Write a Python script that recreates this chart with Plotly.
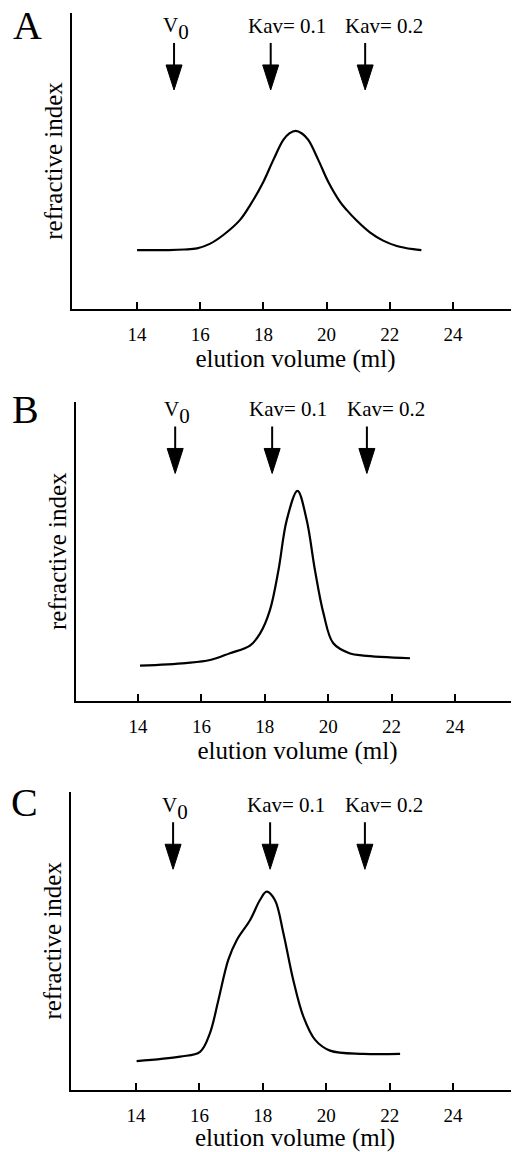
import plotly.graph_objects as go

# ---------------- data ----------------
panel_letters = ["A", "B", "C"]

elution_A = [14.0, 15.0, 15.5, 15.9, 16.3, 16.73, 17.26, 17.58, 18.0, 18.31, 18.63, 18.82, 19.02,
             19.22, 19.42, 19.74, 20.05, 20.42, 20.64, 20.95, 21.37, 21.79, 22.22, 22.74, 23.0]
ri_A = [19.9, 19.9, 20.1, 20.5, 22.0, 25.0, 30.1, 35.1, 43.0, 50.3, 57.1, 59.3, 60.2,
        59.3, 57.1, 50.3, 43.0, 36.3, 33.4, 29.9, 25.9, 23.1, 21.3, 20.2, 19.9]

elution_B = [14.06, 15.5, 16.27, 16.9, 17.53, 17.85, 18.16, 18.43, 18.69, 19.03,
             19.32, 19.58, 19.85, 20.16, 20.69, 21.11, 22.58]
ri_B = [11.7, 12.6, 13.6, 15.9, 18.4, 22.5, 30.3, 43.7, 60.4, 70.2,
        60.4, 43.7, 29.2, 19.2, 15.8, 15.1, 14.2]

elution_C = [14.02, 15.39, 16.02, 16.33, 16.6, 16.91, 17.18, 17.6, 17.91, 18.12, 18.38, 18.65,
             18.96, 19.28, 19.65, 20.12, 21.17, 22.33]
ri_C = [9.7, 11.2, 12.8, 19.0, 30.2, 43.6, 50.3, 57.0, 63.7, 66.5, 63.7, 52.5,
        36.9, 24.6, 16.8, 13.2, 12.1, 12.1]

marker_ml = [15.17, 18.23, 21.22]
marker_labels = ["V<sub><sub><span style='font-size:21px'>0</span></sub></sub>", "Kav= 0.1", "Kav= 0.2"]
arrow_tip = [74.0, 76.0, 74.0]          # per panel, in y units

tick_vals = [14, 16, 18, 20, 22, 24]
x_title = "elution volume (ml)"
y_title = "refractive index"

# ---------------- layout / style ----------------
OFF = 8                      # page body margin
W, H = 519 - OFF, 1152 - OFF
FONT = "Liberation Serif, Times New Roman, serif"


def px(v):
    return (v - OFF) / W


def py(v):
    return 1 - (v - OFF) / H


x_ranges = [[11.94, 26.09], [12.04, 26.02], [11.95, 26.08]]
x_domains = [[px(72), 1.0], [px(76), 1.0], [px(71), 1.0]]
y_domains = [[py(309), py(13)], [py(700.7), py(401.7)], [py(1090), py(791.7)]]
letter_pos = [(27, 25), (25, 409.5), (24, 802)]
label_xshift = [2, 16, 19]
label_yshift = [61, 64, 64]

series = [(elution_A, ri_A), (elution_B, ri_B), (elution_C, ri_C)]

fig = go.Figure()
shapes = []
annotations = []

for i, (xs, ys) in enumerate(series):
    n = "" if i == 0 else str(i + 1)
    xa, ya = "x" + n, "y" + n
    fig.add_trace(go.Scatter(
        x=xs, y=ys, mode="lines", xaxis=xa, yaxis=ya,
        line=dict(color="black", width=2.2, shape="spline", smoothing=1.0),
        showlegend=False, hoverinfo="x+y",
    ))
    fig.layout["xaxis" + n] = dict(
        domain=x_domains[i], range=x_ranges[i], anchor=ya,
        showline=True, linecolor="black", linewidth=2,
        ticks="inside", ticklen=7, tickwidth=1.5, tickcolor="black",
        tickvals=tick_vals, showgrid=False, zeroline=False,
        tickfont=dict(family=FONT, size=19, color="black"),
        ticklabelstandoff=7,
        title=dict(text=x_title, font=dict(family=FONT, size=25, color="black"), standoff=5),
    )
    fig.layout["yaxis" + n] = dict(
        domain=y_domains[i], range=[0, 100], anchor=xa,
        showline=True, linecolor="black", linewidth=2,
        showticklabels=False, ticks="", showgrid=False, zeroline=False,
        title=dict(text=y_title, font=dict(family=FONT, size=25, color="black"), standoff=0),
    )
    # arrows and labels
    for mx, lab, dx, dy in zip(marker_ml, marker_labels, label_xshift, label_yshift):
        shapes.append(dict(
            type="line", xref=xa, yref=ya, xsizemode="scaled", ysizemode="pixel",
            x0=mx, x1=mx, yanchor=arrow_tip[i], y0=20, y1=47,
            line=dict(color="black", width=2),
        ))
        shapes.append(dict(
            type="path", xref=xa, yref=ya, xsizemode="pixel", ysizemode="pixel",
            xanchor=mx, yanchor=arrow_tip[i],
            path="M-8,25 L8,25 L0,0 Z",
            fillcolor="black", line=dict(color="black", width=1),
        ))
        annotations.append(dict(
            x=mx, y=arrow_tip[i], xref=xa, yref=ya, text=lab, showarrow=False,
            xanchor="center", yanchor="middle", yshift=dy, xshift=dx,
            font=dict(family=FONT, size=21, color="black"),
        ))
    lx, ly = letter_pos[i]
    annotations.append(dict(
        x=px(lx), y=py(ly), xref="paper", yref="paper", text=panel_letters[i],
        showarrow=False, xanchor="center", yanchor="middle",
        font=dict(family=FONT, size=40, color="black"),
    ))

fig.update_layout(
    width=W, height=H, margin=dict(l=0, r=0, t=0, b=0),
    paper_bgcolor="white", plot_bgcolor="white",
    shapes=shapes, annotations=annotations, showlegend=False,
)

fig.write_html("out.html")
